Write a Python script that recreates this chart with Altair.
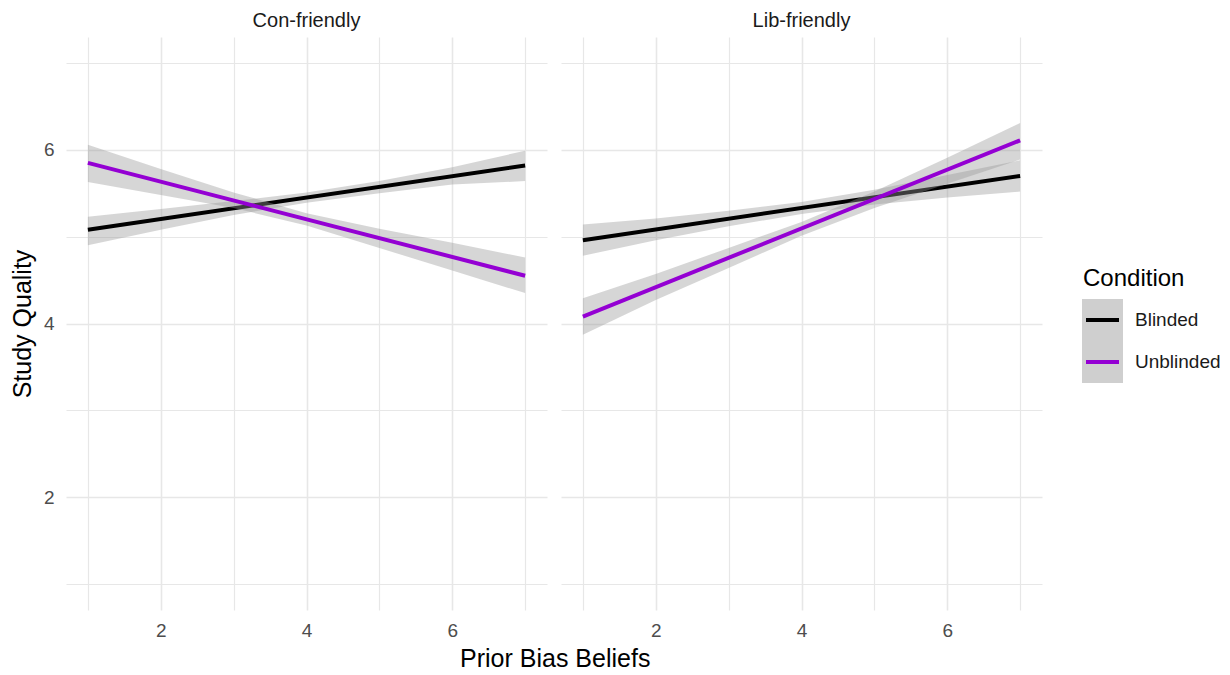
import altair as alt
import pandas as pd

# Panels and conditions
panels = ["Con-friendly", "Lib-friendly"]
conditions = ["Blinded", "Unblinded"]
line_colors = ["#000000", "#9400D3"]

# Fitted regression lines (endpoints at x = 1 and x = 7)
fit_x = [1, 7]
con_blinded_fit = [5.08, 5.82]
con_unblinded_fit = [5.85, 4.55]
lib_blinded_fit = [4.96, 5.70]
lib_unblinded_fit = [4.08, 6.11]

# Confidence bands (lower / upper) at x = 1..7
band_x = [1, 2, 3, 4, 5, 6, 7]
con_blinded_lo = [4.90, 5.08, 5.25, 5.39, 5.50, 5.60, 5.64]
con_blinded_hi = [5.23, 5.32, 5.41, 5.51, 5.64, 5.80, 5.99]
con_unblinded_lo = [5.63, 5.48, 5.33, 5.13, 4.87, 4.61, 4.35]
con_unblinded_hi = [6.06, 5.78, 5.51, 5.27, 5.09, 4.93, 4.76]
lib_blinded_lo = [4.78, 4.96, 5.12, 5.26, 5.37, 5.45, 5.52]
lib_blinded_hi = [5.14, 5.21, 5.30, 5.40, 5.54, 5.71, 5.88]
lib_unblinded_lo = [3.87, 4.27, 4.64, 5.01, 5.33, 5.61, 5.89]
lib_unblinded_hi = [4.29, 4.57, 4.87, 5.17, 5.52, 5.91, 6.31]

grid_values = [1, 2, 3, 4, 5, 6, 7]

FONT = "Liberation Sans"

fits = {
    ("Con-friendly", "Blinded"): con_blinded_fit,
    ("Con-friendly", "Unblinded"): con_unblinded_fit,
    ("Lib-friendly", "Blinded"): lib_blinded_fit,
    ("Lib-friendly", "Unblinded"): lib_unblinded_fit,
}
bands = {
    ("Con-friendly", "Blinded"): (con_blinded_lo, con_blinded_hi),
    ("Con-friendly", "Unblinded"): (con_unblinded_lo, con_unblinded_hi),
    ("Lib-friendly", "Blinded"): (lib_blinded_lo, lib_blinded_hi),
    ("Lib-friendly", "Unblinded"): (lib_unblinded_lo, lib_unblinded_hi),
}

rows = []
for (panel, cond), ys in fits.items():
    for x, y in zip(fit_x, ys):
        rows.append({"panel": panel, "cond": cond, "kind": "fit", "x": x, "y": y})
for (panel, cond), (lo, hi) in bands.items():
    for x, l, h in zip(band_x, lo, hi):
        rows.append({"panel": panel, "cond": cond, "kind": "band", "x": x, "lo": l, "hi": h})
df = pd.DataFrame(rows)

grid_width = {"condition": {"test": "datum.value % 2 == 0", "value": 1.6}, "value": 1.2}
GRID = "#e7e7e7"

x_enc = alt.X(
    "x:Q",
    scale=alt.Scale(domain=[0.7, 7.3], nice=False, zero=False),
    axis=alt.Axis(
        title=None, values=grid_values, labelExpr="datum.value % 2 == 0 ? datum.label : ''",
        grid=True, gridColor=GRID, gridWidth=grid_width, ticks=False, domain=False,
        labelFontSize=19, labelColor="#4d4d4d", labelFont=FONT, labelPadding=11,
    ),
)
y_scale = alt.Scale(domain=[0.7, 7.3], nice=False, zero=False)
y_axis = alt.Axis(
    title="Study Quality", values=grid_values, labelExpr="datum.value % 2 == 0 ? datum.label : ''",
    grid=True, gridColor=GRID, gridWidth=grid_width, ticks=False, domain=False,
    labelFontSize=19, labelColor="#4d4d4d", labelFont=FONT, labelPadding=12,
    titleFontSize=25, titleFont=FONT, titleColor="#000000", titleFontWeight="normal",
    titlePadding=8,
)

color_scale = alt.Scale(domain=conditions, range=line_colors)


def band_layer(cond):
    return alt.Chart().mark_area(color="#999999", opacity=0.4).encode(
        x=x_enc,
        y=alt.Y("lo:Q", scale=y_scale, axis=y_axis),
        y2="hi:Q",
    ).transform_filter(
        (alt.datum.kind == "band") & (alt.datum.cond == cond)
    )


def fit_layer(cond):
    return alt.Chart().mark_line(strokeWidth=4).encode(
        x=x_enc,
        y=alt.Y("y:Q", scale=y_scale, axis=y_axis),
        color=alt.Color("cond:N", scale=color_scale, legend=None),
    ).transform_filter(
        (alt.datum.kind == "fit") & (alt.datum.cond == cond)
    )


panel_layers = alt.layer(
    band_layer("Blinded"), fit_layer("Blinded"),
    band_layer("Unblinded"), fit_layer("Unblinded"),
    data=df,
).properties(width=481, height=573)

faceted = panel_layers.facet(
    column=alt.Column(
        "panel:N", sort=panels,
        header=alt.Header(title=None, labelFontSize=20, labelColor="#1a1a1a",
                          labelFont=FONT, labelPadding=6),
    ),
    spacing=14,
).properties(
    title=alt.TitleParams("Prior Bias Beliefs", orient="bottom", anchor="middle",
                          fontSize=25, font=FONT, fontWeight="normal",
                          color="#000000", offset=7, dx=29),
)

# Legend drawn as its own small view
legend_df = pd.DataFrame({"cond": conditions, "label": conditions})
key_scale = alt.Scale(domain=conditions, range=[262, 346])

legend_bg = alt.Chart(legend_df).mark_rect(color="#cfcfcf").encode(
    y=alt.Y("cond:N", scale=key_scale, axis=None), x=alt.value(0), x2=alt.value(41),
)
legend_line = alt.Chart(legend_df).mark_rule(strokeWidth=4).encode(
    y=alt.Y("cond:N", scale=key_scale, axis=None, bandPosition=0.5),
    x=alt.value(4), x2=alt.value(37),
    color=alt.Color("cond:N", scale=color_scale, legend=None),
)
legend_text = alt.Chart(legend_df).mark_text(
    align="left", baseline="middle", fontSize=19, font=FONT, color="#1a1a1a"
).encode(
    y=alt.Y("cond:N", scale=key_scale, axis=None, bandPosition=0.5),
    x=alt.value(53), text="label:N",
)
legend_title = alt.Chart(pd.DataFrame({"t": ["Condition"]})).mark_text(
    align="left", baseline="alphabetic", fontSize=24, font=FONT, color="#000000"
).encode(x=alt.value(1), y=alt.value(249), text="t:N")

legend = alt.layer(legend_bg, legend_line, legend_text, legend_title).properties(
    width=140, height=573
)

chart = alt.hconcat(faceted, legend, spacing=40).properties(
    padding={"left": 10, "top": 11, "right": 5, "bottom": 5},
    background="white",
).configure_view(strokeWidth=0, stroke="transparent")

chart.save("out.html", embed_options={"renderer": "svg", "actions": False})
